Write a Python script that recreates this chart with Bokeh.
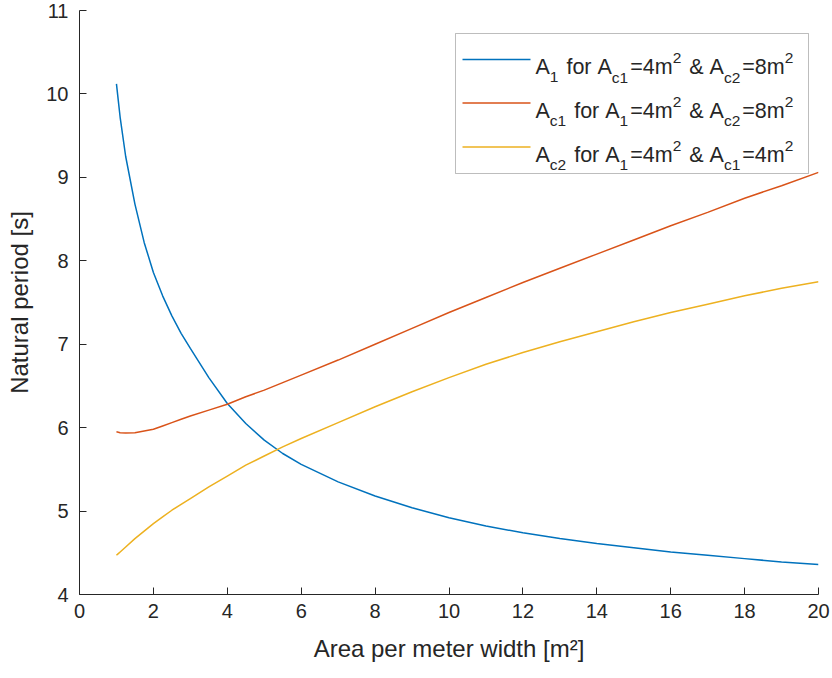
from bokeh.plotting import figure
from bokeh.models import Range1d, FixedTicker, BoxAnnotation, Label
from bokeh.embed import file_html
from bokeh.resources import INLINE

# Area per meter width [m^2]
area = [1, 1.05, 1.1, 1.25, 1.5, 1.75, 2, 2.25, 2.5, 2.75, 3, 3.5, 4, 4.5, 5, 5.5,
        6, 7, 8, 9, 10, 11, 12, 13, 14, 15, 16, 17, 18, 19, 20]

# Natural period [s] when A1 varies (Ac1 = 4 m^2, Ac2 = 8 m^2)
period_a1 = [10.12, 9.92, 9.72, 9.25, 8.68, 8.22, 7.86, 7.58, 7.34, 7.13, 6.95,
             6.60, 6.29, 6.05, 5.85, 5.69, 5.56, 5.35, 5.18, 5.04, 4.92, 4.82,
             4.74, 4.67, 4.61, 4.56, 4.51, 4.47, 4.43, 4.39, 4.36]

# Natural period [s] when Ac1 varies (A1 = 4 m^2, Ac2 = 8 m^2)
period_ac1 = [5.95, 5.945, 5.94, 5.935, 5.94, 5.96, 5.98, 6.02, 6.06, 6.10, 6.14,
              6.21, 6.28, 6.37, 6.45, 6.54, 6.63, 6.81, 7.00, 7.19, 7.38, 7.56,
              7.74, 7.91, 8.08, 8.25, 8.42, 8.58, 8.75, 8.90, 9.06]

# Natural period [s] when Ac2 varies (A1 = 4 m^2, Ac1 = 4 m^2)
period_ac2 = [4.47, 4.49, 4.51, 4.57, 4.67, 4.76, 4.85, 4.93, 5.01, 5.08, 5.15,
              5.29, 5.42, 5.55, 5.66, 5.77, 5.87, 6.06, 6.25, 6.43, 6.60, 6.76,
              6.90, 7.03, 7.15, 7.27, 7.38, 7.48, 7.58, 7.67, 7.75]

x_ticks = [0, 2, 4, 6, 8, 10, 12, 14, 16, 18, 20]
y_ticks = [4, 5, 6, 7, 8, 9, 10, 11]

series_colors = ["#0072BD", "#D95319", "#EDB120"]

# legend entries as runs of (text, position) with position "", "sub" or "sup"
legend_rows = [
    [("A", ""), ("1", "sub"), (" for A", ""), ("c1", "sub"), ("=4m", ""), ("2", "sup"),
     (" & A", ""), ("c2", "sub"), ("=8m", ""), ("2", "sup")],
    [("A", ""), ("c1", "sub"), (" for A", ""), ("1", "sub"), ("=4m", ""), ("2", "sup"),
     (" & A", ""), ("c2", "sub"), ("=8m", ""), ("2", "sup")],
    [("A", ""), ("c2", "sub"), (" for A", ""), ("1", "sub"), ("=4m", ""), ("2", "sup"),
     (" & A", ""), ("c1", "sub"), ("=4m", ""), ("2", "sup")],
]

FONT = "Liberation Sans"
INK = "#262626"

W, H = 832, 678
LEFT, RIGHT, TOP, BOTTOM = 79, 14, 10, 84

p = figure(width=W, height=H, x_range=Range1d(0, 20), y_range=Range1d(4, 11),
           output_backend="svg", toolbar_location=None,
           min_border_left=LEFT, min_border_right=RIGHT,
           min_border_top=TOP, min_border_bottom=BOTTOM)
p.title.visible = False
p.outline_line_color = None
p.xgrid.visible = False
p.ygrid.visible = False
p.background_fill_color = "white"
p.border_fill_color = "white"

for ax in (p.xaxis[0], p.yaxis[0]):
    ax.axis_line_color = INK
    ax.axis_line_width = 1
    ax.major_tick_line_color = INK
    ax.major_tick_in = 7
    ax.major_tick_out = 0
    ax.minor_tick_in = 0
    ax.minor_tick_out = 0
    ax.major_label_text_font = FONT
    ax.major_label_text_font_size = "20px"
    ax.major_label_text_color = INK
    ax.axis_label_text_font = FONT
    ax.axis_label_text_font_size = "24px"
    ax.axis_label_text_font_style = "normal"
    ax.axis_label_text_color = INK

p.xaxis.ticker = FixedTicker(ticks=x_ticks)
p.yaxis.ticker = FixedTicker(ticks=y_ticks)
p.xaxis.axis_label = "Area per meter width [m\u00b2]"
p.yaxis.axis_label = "Natural period [s]"
p.xaxis.major_label_standoff = 9
p.yaxis.major_label_standoff = 11
p.xaxis.axis_label_standoff = 14
p.yaxis.axis_label_standoff = 10

for ys, col in zip([period_a1, period_ac1, period_ac2], series_colors):
    p.line(area, ys, line_color=col, line_width=1.5)

# ---- legend drawn by hand so that sub/superscripts can be typeset ----
frame_bottom = H - BOTTOM


def sx(cx):
    return cx - LEFT


def sy(cy):
    return frame_bottom - cy


# Arial/Helvetica advance widths (per 1000 em)
ADV = {"A": 667, " ": 278, "f": 278, "o": 556, "r": 333, "c": 500, "=": 584,
       "m": 833, "&": 667}
for d in "0123456789":
    ADV[d] = 556


def text_width(s, size):
    return sum(ADV.get(ch, 556) for ch in s) * size / 1000.0


box_l, box_r, box_t, box_b = 455, 808, 33, 173
p.add_layout(BoxAnnotation(left=sx(box_l), right=sx(box_r), top=sy(box_t), bottom=sy(box_b),
                           left_units="screen", right_units="screen",
                           top_units="screen", bottom_units="screen",
                           fill_color="white", fill_alpha=1.0,
                           line_color=INK, line_width=1, level="overlay"))

main_size, small_size = 21.5, 15.5
script_gap = 2.0
row_baselines = [66.5, 110, 154]
for row, base, col in zip(legend_rows, row_baselines, series_colors):
    mid = base - 7.5
    p.add_layout(BoxAnnotation(left=sx(462), right=sx(530), top=sy(mid - 0.75), bottom=sy(mid + 0.75),
                               left_units="screen", right_units="screen",
                               top_units="screen", bottom_units="screen",
                               fill_color=col, fill_alpha=1.0, line_color=None, level="overlay"))
    cx = 535.0
    for txt, pos in row:
        size = main_size if pos == "" else small_size
        shift = {"": 0, "sub": 10, "sup": -9}[pos]
        p.add_layout(Label(x=sx(cx), y=sy(base + shift), x_units="screen", y_units="screen",
                           text=txt.replace(" ", "\u00a0"), text_font=FONT,
                           text_font_size=f"{size}px",
                           text_color=INK, text_baseline="alphabetic", text_align="left",
                           level="overlay"))
        cx += text_width(txt, size) + (script_gap if pos else 0.0)

open("out.html", "w").write(file_html(p, INLINE))
